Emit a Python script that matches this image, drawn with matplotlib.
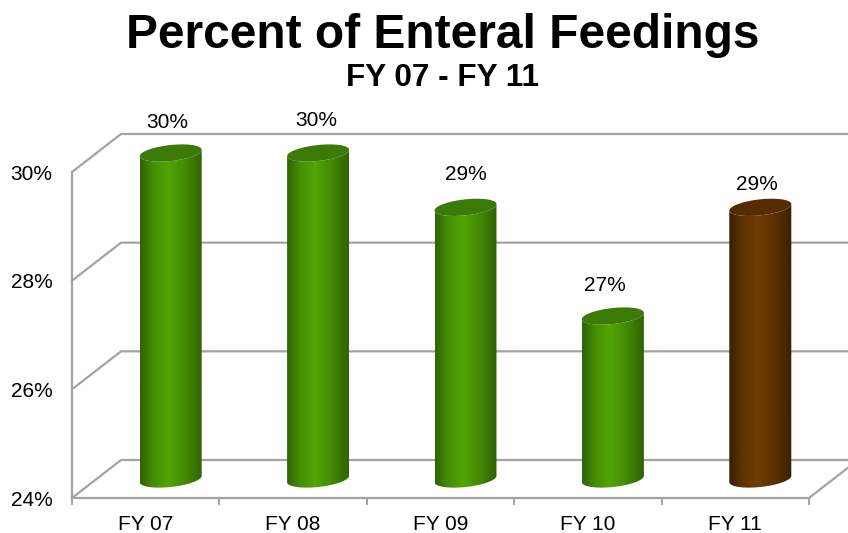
import numpy as np
import matplotlib
matplotlib.use("Agg")
import matplotlib.pyplot as plt
from matplotlib.colors import LinearSegmentedColormap
from matplotlib.patches import PathPatch
from matplotlib.path import Path

plt.rcParams["font.family"] = ["Liberation Sans", "DejaVu Sans"]

# Data
categories = ["FY 07", "FY 08", "FY 09", "FY 10", "FY 11"]
values = [30, 30, 29, 27, 29]
value_labels = ["30%", "30%", "29%", "27%", "29%"]
y_ticks = [24, 26, 28, 30]
y_tick_labels = ["24%", "26%", "28%", "30%"]

# Styles: edge, mid and centre colour of each cylinder
side_colors = [("#2f6304", "#458c04", "#52a505")] * 4 + [("#3a1f02", "#5f3202", "#703c02")]
top_colors = ["#3b7a06"] * 4 + ["#552c02"]
label_nudge = [(-3, 50), (-2, 52), (0, 52), (-8, 50), (-3, 42)]
grid_color = "#a3a3a3"

W, H = 848, 533
fig = plt.figure(figsize=(W / 100, H / 100), dpi=100)
ax = fig.add_axes([72 / W, 1 - 498 / H, (809 - 72) / W, (498 - 172) / H])
ax.set_xlim(0, 5)
ax.set_ylim(24, 30)

# size of one pixel in data units, for the fake 3D depth
px_x = 5 / (809 - 72)
px_y = 6 / (498 - 172)
depth_x = 49 * px_x
depth_y = 38 * px_y
x_right_edge = (W - 72) * px_x

# Back wall and side wall
for t in y_ticks:
    ax.plot([0, depth_x, x_right_edge], [t, t + depth_y, t + depth_y],
            color=grid_color, lw=1.6, clip_on=False, zorder=1)
ax.plot([5, 5 + depth_x], [24, 24 + depth_y], color=grid_color, lw=1.6,
        clip_on=False, zorder=1)


def ellipse(cx, cy, t):
    a = 31 * px_x
    b = 8 * px_y
    tilt = 3.2 * px_y
    return cx + a * np.cos(t), cy + b * np.sin(t) + tilt * np.cos(t)


# Cylinders
for i, v in enumerate(values):
    cx = i + 0.5 + 25 * px_x
    base = 24 + depth_y / 2
    top = v + depth_y / 2

    t_low = np.linspace(np.pi, 2 * np.pi, 60)
    bx, by = ellipse(cx, base, t_low)
    tx, ty = ellipse(cx, top, t_low[::-1])
    body = np.column_stack([np.r_[bx, tx], np.r_[by, ty]])
    body_path = Path(np.vstack([body, body[0]]), closed=True)

    edge, mid, centre = side_colors[i]
    cmap = LinearSegmentedColormap.from_list(
        "c", [(0, edge), (0.2, mid), (0.45, centre), (0.7, mid), (1, edge)])
    grad = np.linspace(0, 1, 128).reshape(1, -1)
    im = ax.imshow(grad, cmap=cmap, aspect="auto", zorder=3,
                   extent=[cx - 31 * px_x, cx + 31 * px_x, base - 12 * px_y, top + 12 * px_y])
    patch = PathPatch(body_path, transform=ax.transData, fc="none", ec="none")
    ax.add_patch(patch)
    im.set_clip_box(fig.bbox)
    im.set_clip_path(patch)

    t_all = np.linspace(0, 2 * np.pi, 120)
    ex, ey = ellipse(cx, top, t_all)
    ax.fill(ex, ey, color=top_colors[i], zorder=4, clip_on=False, lw=0)

    ax.annotate(value_labels[i], (cx, v), xytext=label_nudge[i], textcoords="offset pixels",
                ha="center", va="center", fontsize=15, color="black", annotation_clip=False)

ax.set_xlim(0, 5)
ax.set_ylim(24, 30)

# Axes
for s in ["top", "right"]:
    ax.spines[s].set_visible(False)
for s in ["left", "bottom"]:
    ax.spines[s].set_color(grid_color)
    ax.spines[s].set_linewidth(1.6)
ax.patch.set_alpha(0)
ax.set_yticks(y_ticks)
ax.set_yticklabels(y_tick_labels, fontsize=15)
ax.tick_params(axis="y", length=0, pad=14)
ax.set_xticks(range(6))
ax.set_xticklabels([])
ax.set_xticks([i + 0.5 for i in range(5)], minor=True)
ax.set_xticklabels(categories, minor=True, fontsize=15)
ax.tick_params(axis="x", which="major", length=5, width=1.4, color=grid_color)
ax.tick_params(axis="x", which="minor", length=0, pad=12)

# Titles
fig.text(443 / W, 1 - 35 / H, "Percent of Enteral Feedings", ha="center", va="center",
         fontsize=34.5, fontweight="bold")
fig.text(442 / W, 1 - 78 / H, "FY 07 - FY 11", ha="center", va="center",
         fontsize=22.7, fontweight="bold")

fig.savefig("out.png", dpi=100)
